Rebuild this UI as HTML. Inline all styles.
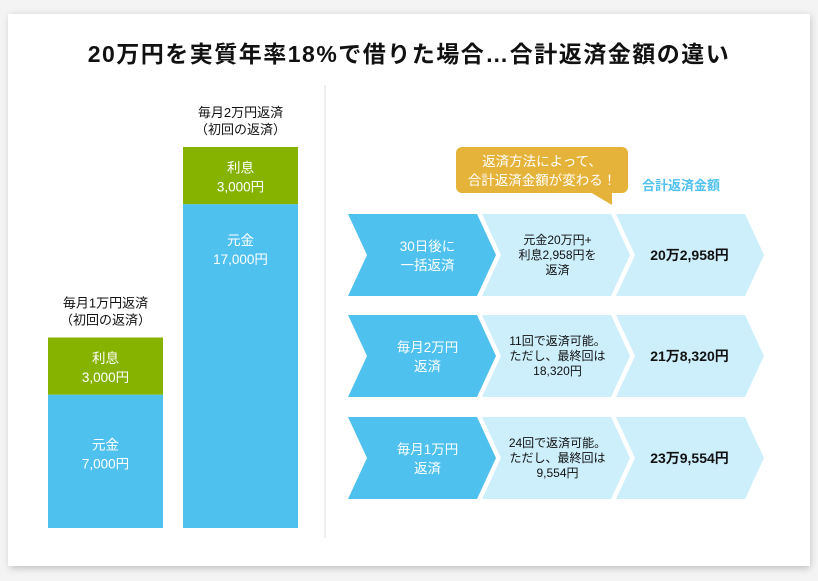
<!DOCTYPE html>
<html><head><meta charset="utf-8">
<style>
html,body{margin:0;padding:0;background:#f4f4f4;}
body{width:818px;height:576px;overflow:hidden;font-family:"Liberation Sans","Noto Sans CJK JP",sans-serif;}
</style></head>
<body>
<svg id="c" width="818" height="576" viewBox="0 0 818 576" xmlns="http://www.w3.org/2000/svg" font-family="Liberation Sans, Noto Sans CJK JP, sans-serif">
<defs><filter id="sh" x="-5%" y="-5%" width="110%" height="110%"><feGaussianBlur stdDeviation="4"/></filter></defs>
<rect x="10" y="16" width="800" height="552" fill="#bbb" filter="url(#sh)"/>
<rect x="8" y="14" width="802" height="552" fill="#fff"/>
<text x="409" y="62" text-anchor="middle" font-size="23" font-weight="bold" letter-spacing="1.5" fill="#111">20万円を実質年率18%で借りた場合…合計返済金額の違い</text>
<line x1="325" y1="85" x2="325" y2="538" stroke="#ddd" stroke-width="1"/>
<g id="bars"></g>
<g id="rows"></g>
<g>
<rect x="456" y="147" width="172" height="46" rx="6" fill="#e6b33a"/>
<polygon points="590,192 612,192 612,205" fill="#e6b33a"/>
<text x="542" y="166" text-anchor="middle" font-size="13.5" fill="#fff">返済方法によって、</text>
<text x="542" y="185" text-anchor="middle" font-size="13.5" fill="#fff">合計返済金額が変わる！</text>
</g>
<text x="681" y="190" text-anchor="middle" font-size="13" font-weight="bold" fill="#4fc1ef">合計返済金額</text>
</svg>
<script>
const barLabels1 = ["毎月1万円返済", "毎月2万円返済"];
const principal = [7000, 17000];
const interest = [3000, 3000];
const rowLabels = [["30日後に","一括返済"],["毎月2万円","返済"],["毎月1万円","返済"]];
const rowDetails = [["元金20万円+","利息2,958円を","返済"],["11回で返済可能。","ただし、最終回は","18,320円"],["24回で返済可能。","ただし、最終回は","9,554円"]];
const totals = ["20万2,958円","21万8,320円","23万9,554円"];

const NS="http://www.w3.org/2000/svg";
function mk(tag,attrs,parent){const e=document.createElementNS(NS,tag);for(const k in attrs)e.setAttribute(k,attrs[k]);parent.appendChild(e);return e;}
function txt(x,y,s,size,fill,parent,bold){const t=mk('text',{x:x,y:y,'text-anchor':'middle','font-size':size,fill:fill},parent);if(bold)t.setAttribute('font-weight','bold');t.textContent=s;return t;}
const base=528, scale=381/20000;
const yv=v=>base-v*scale;
const barX=[48,183], barW=115;
const bars=document.getElementById('bars');
const fmt=v=>v.toLocaleString('en-US')+'円';
for(let i=0;i<principal.length;i++){
  const g=mk('g',{},bars);
  
  
  const top=yv(principal[i]+interest[i]), mid=yv(principal[i]);
  const r1=mk('rect',{x:barX[i],y:mid,width:barW,height:base-mid,fill:'#4fc1ef'},g);
  
  
  const r2=mk('rect',{x:barX[i],y:top,width:barW,height:mid-top,fill:'#86b200'},g);
  
  
  const cx=barX[i]+barW/2;
  txt(cx,top+(mid-top)/2-3,'利息',13.5,'#fff',g);
  txt(cx,top+(mid-top)/2+16,fmt(interest[i]),13.5,'#fff',g);
  const py=i==0?mid+(base-mid)/2-6:mid+(base-mid)/2-115;
  txt(cx,py+8-14,'元金',13.5,'#fff',g);
  txt(cx,py+8+5,fmt(principal[i]),13.5,'#fff',g);
  txt(cx,top-30,barLabels1[i],13,'#111',g);
  txt(cx,top-13,'（初回の返済）',13,'#111',g);
}
const rows=document.getElementById('rows');
const rowY=[214,315,417], H=82, xs=[348,482,616], W=129, N=19;
for(let r=0;r<3;r++){
  const g=mk('g',{},rows);
  
  
  const y=rowY[r];
  for(let k=0;k<3;k++){
    const x=xs[k];
    const p=mk('polygon',{points:`${x},${y} ${x+W},${y} ${x+W+N},${y+H/2} ${x+W},${y+H} ${x},${y+H} ${x+N},${y+H/2}`,fill:k==0?'#4fc1ef':'#cdeefb'},g);
    
    
  }
  const c1=xs[0]+N+W/2-4, my=y+H/2;
  txt(c1,my-4,rowLabels[r][0],13.5,'#fff',g);
  txt(c1,my+15,rowLabels[r][1],13.5,'#fff',g);
  const c2=xs[1]+N+W/2-8;
  rowDetails[r].forEach((s,j)=>txt(c2,my-11+j*15,s,12,'#111',g));
  txt(xs[2]+N+W/2-10,my+5,totals[r],14,'#111',g,true);
}
</script>
</body></html>
